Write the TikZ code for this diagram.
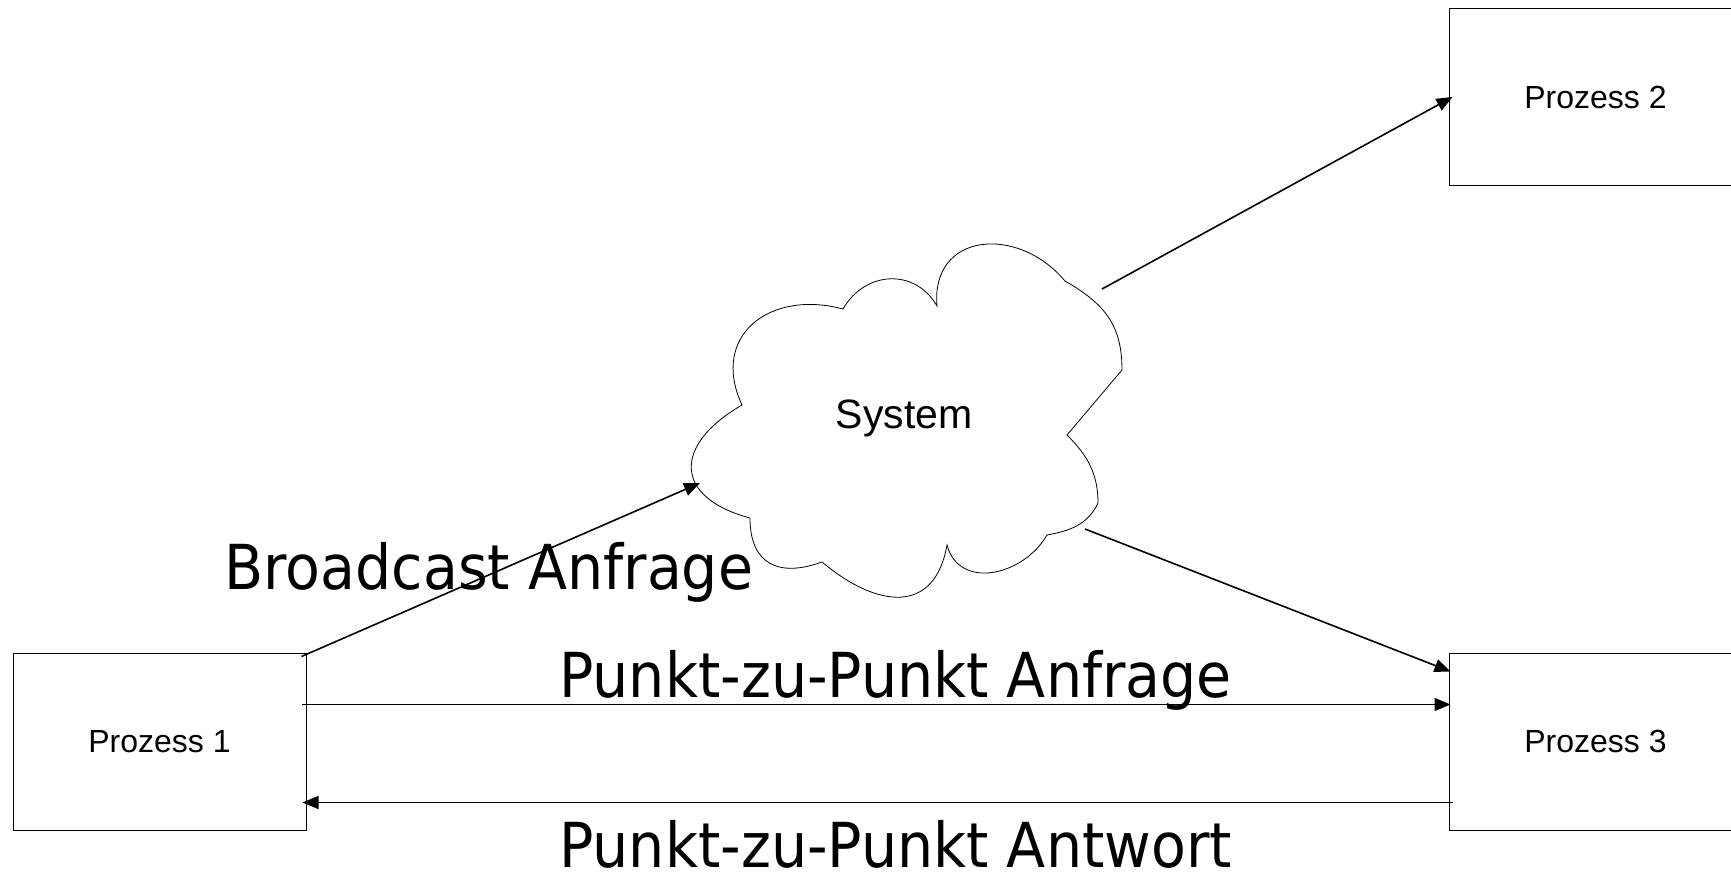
\documentclass[tikz,border=0pt]{standalone}
\usepackage{fontspec}
\setmainfont{Liberation Sans}
\newfontfamily\bigfont[FakeStretch=0.92]{DejaVu Sans}
\usetikzlibrary{arrows.meta}

\begin{document}
\begin{tikzpicture}[x=0.5pt, y=0.5pt,
    prozess/.style={draw, line width=0.5pt, minimum width=146.5pt, minimum height=88.5pt,
      inner sep=0pt, font=\fontsize{16}{19}\selectfont},
    msg/.style={-{Triangle[length=8pt,width=6.5pt]}, line width=0.8pt},
    lbl/.style={anchor=base west, inner sep=0pt, font=\bigfont\fontsize{31}{37}\selectfont}]
  \useasboundingbox (0,0) rectangle (1731,880);
  \clip (0,0) rectangle (1731,880);

  % Processes
  \node[prozess] (p1) at (159.5,138.5) {Prozess 1};
  \node[prozess] (p2) at (1595.5,783) {Prozess 2};
  \node[prozess] (p3) at (1595.5,138.5) {Prozess 3};

  % System cloud
  \draw[line width=0.4pt] (742,475) to[out=115,in=165,looseness=1.4] (843,571)
    to[out=60,in=120,looseness=1.2] (937,574)
    to[out=95,in=130,looseness=1.45] (1065,599)
    to[out=-30,in=90,looseness=1.1] (1122,510)
    -- (1067,445)
    to[out=-45,in=90] (1098,377)
    to[out=-115,in=10] (1047,345)
    to[out=-120,in=-75,looseness=1.2] (947,335)
    to[out=-100,in=-40,looseness=1.45] (822,318)
    to[out=-160,in=-90,looseness=1.4] (750,362)
    to[out=165,in=-150,looseness=1.8] cycle;
  \node[font=\fontsize{20.5}{24}\selectfont] (sys) at (904,462) {System};
  \coordinate (sysW) at (700,397);
  \coordinate (sysNE) at (1102,591);
  \coordinate (sysSE) at (1085,351);

  % Messages
  \draw[msg] ([shift={(-5,-4)}]p1.north east) -- (sysW);
  \draw[msg] (sysNE) -- ([xshift=2]p2.west);
  \draw[msg] (sysSE) -- ([shift={(2,-19)}]p3.north west);
  \draw[msg] ([shift={(-5,-52)}]p1.north east) -- ([shift={(2,-52)}]p3.north west);
  \draw[msg] ([shift={(4,28)}]p3.south west) -- ([shift={(-4,28)}]p1.south east);

  % Labels
  \node[lbl] (bcast) at (224,291) {Broadcast Anfrage};
  \node[lbl] (anfrage) at (559,183) {Punkt-zu-Punkt Anfrage};
  \node[lbl] (antwort) at (559,13) {Punkt-zu-Punkt Antwort};
\end{tikzpicture}
\end{document}
